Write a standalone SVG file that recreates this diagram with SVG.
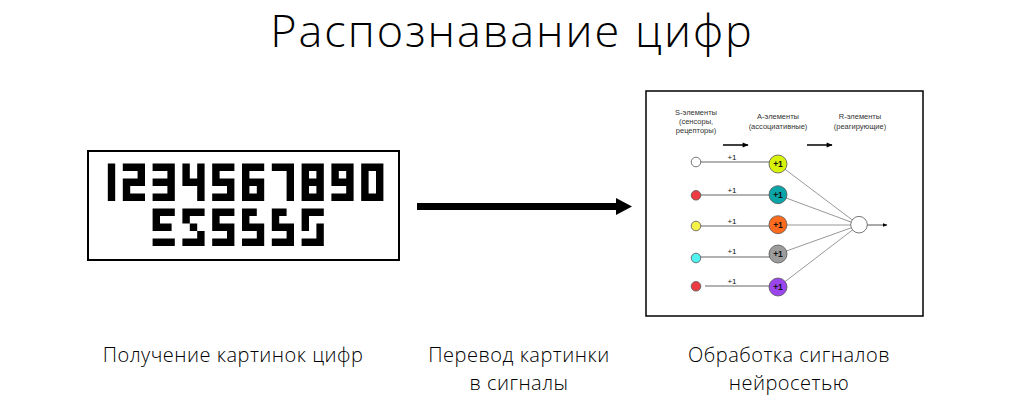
<svg xmlns="http://www.w3.org/2000/svg" xmlns:xlink="http://www.w3.org/1999/xlink" width="1024" height="418" viewBox="0 0 1024 418">
<style>
.title{font-family:"Open Sans","Liberation Sans",sans-serif;font-weight:300;font-size:45px;letter-spacing:2px;fill:#000}
.cap{font-family:"Open Sans","Liberation Sans",sans-serif;font-weight:300;font-size:20px;letter-spacing:0.5px;fill:#000}
.sm{font-family:"Liberation Sans",Arial,sans-serif;font-size:7.5px;fill:#333}
.pl{font-family:"Liberation Sans",Arial,sans-serif;font-size:8px;fill:#111}
.an{font-family:"Liberation Sans",Arial,sans-serif;font-size:8.5px;font-weight:bold;fill:#111}
.sa{stroke:#999;stroke-width:1.5;fill:none}
.ar{stroke:#999;stroke-width:1;fill:none}
.nd{stroke:#555;stroke-width:0.8}
</style>
<defs>
<path id="d1" d="M14.8 0h7.4v37.5h-7.4z"/>
<path id="d2" d="M0 0h22.2v7.5H0zM14.8 7.5h7.4v7.5h-7.4zM0 15h22.2v7.5H0zM0 22.5h7.4v7.5H0zM0 30h22.2v7.5H0z"/>
<path id="d3" d="M0 0h22.2v7.5H0zM14.8 7.5h7.4v7.5h-7.4zM0 15h22.2v7.5H0zM14.8 22.5h7.4v7.5h-7.4zM0 30h22.2v7.5H0z"/>
<path id="d4" d="M0 0h7.4v22.5H0zM14.8 0h7.4v37.5h-7.4zM0 15h22.2v7.5H0z"/>
<path id="d5" d="M0 0h22.2v7.5H0zM0 7.5h7.4v7.5H0zM0 15h22.2v7.5H0zM14.8 22.5h7.4v7.5h-7.4zM0 30h22.2v7.5H0z"/>
<path id="d6" d="M0 0h22.2v7.5H0zM0 7.5h7.4v7.5H0zM0 15h22.2v7.5H0zM0 22.5h7.4v7.5H0zM14.8 22.5h7.4v7.5h-7.4zM0 30h22.2v7.5H0z"/>
<path id="d7" d="M0 0h22.2v7.5H0zM14.8 7.5h7.4v30h-7.4z"/>
<path id="d8" d="M0 0h22.2v7.5H0zM0 7.5h7.4v7.5H0zM14.8 7.5h7.4v7.5h-7.4zM0 15h22.2v7.5H0zM0 22.5h7.4v7.5H0zM14.8 22.5h7.4v7.5h-7.4zM0 30h22.2v7.5H0z"/>
<path id="d9" d="M0 0h22.2v7.5H0zM0 7.5h7.4v7.5H0zM14.8 7.5h7.4v7.5h-7.4zM0 15h22.2v7.5H0zM14.8 22.5h7.4v7.5h-7.4zM0 30h22.2v7.5H0z"/>
<path id="d0" d="M0 0h22.2v7.5H0zM0 7.5h7.4v22.5H0zM14.8 7.5h7.4v22.5h-7.4zM0 30h22.2v7.5H0z"/>
<path id="v1" d="M0 0h22.2v7.5H0zM0 7.5h7.4v7.5H0zM0 15h19v7.5H0zM0 30h22.2v7.5H0z"/>
<path id="v2" d="M0 0h22.2v7.5H0zM0 7.5h7.4v7.5H0zM7.4 15h7.4v7.5h-7.4zM14.8 22.5h7.4v7.5h-7.4zM0 30h22.2v7.5H0z"/>
<path id="v4" d="M0 0h14.8v7.5H0zM0 7.5h7.4v7.5H0zM0 15h22.2v7.5H0zM14.8 22.5h7.4v7.5h-7.4zM0 30h22.2v7.5H0z"/>
<path id="v6" d="M0 0h22.2v7.5H0zM0 7.5h7.4v15H0zM14.8 15h7.4v15h-7.4zM0 30h22.2v7.5H0z"/>
<marker id="ah" viewBox="0 0 10 10" refX="9" refY="5" markerWidth="5" markerHeight="5" orient="auto" markerUnits="userSpaceOnUse"><path d="M0 1L10 5L0 9z" fill="#000"/></marker>
<marker id="ah2" viewBox="0 0 10 10" refX="9" refY="5" markerWidth="9" markerHeight="6" orient="auto" markerUnits="userSpaceOnUse"><path d="M0 1L10 5L0 9z" fill="#000"/></marker>
</defs>
<rect width="1024" height="418" fill="#fff"/>

<g id="title"><text class="title" x="512" y="47" text-anchor="middle">Распознавание цифр</text></g>

<g id="digits-image">
<rect x="88" y="151" width="311" height="109" fill="#fff" stroke="#000" stroke-width="2"/>
<g fill="#000">
<use xlink:href="#d1" x="93" y="163.5"/>
<use xlink:href="#d2" x="122.8" y="163.5"/>
<use xlink:href="#d3" x="152.6" y="163.5"/>
<use xlink:href="#d4" x="182.4" y="163.5"/>
<use xlink:href="#d5" x="212.2" y="163.5"/>
<use xlink:href="#d6" x="242" y="163.5"/>
<use xlink:href="#d7" x="271.8" y="163.5"/>
<use xlink:href="#d8" x="301.6" y="163.5"/>
<use xlink:href="#d9" x="331.4" y="163.5"/>
<use xlink:href="#d0" x="361.2" y="163.5"/>
<use xlink:href="#v1" x="152.6" y="208.5"/>
<use xlink:href="#v2" x="182.4" y="208.5"/>
<use xlink:href="#d5" x="212.2" y="208.5"/>
<use xlink:href="#v4" x="242" y="208.5"/>
<use xlink:href="#v4" x="271.8" y="208.5"/>
<use xlink:href="#v6" x="301.6" y="208.5"/>
</g>
</g>

<g id="connectors">
<rect x="417" y="203" width="201" height="7" fill="#000"/>
<path d="M616 198L632 206.5L616 215z" fill="#000"/>
</g>

<g id="network-panel">
<rect x="646" y="91" width="277" height="225" fill="#fff" stroke="#000" stroke-width="1.5"/>
<g class="sm" text-anchor="middle">
<text x="696" y="115">S-элементы</text>
<text x="696" y="124">(сенсоры,</text>
<text x="696" y="133">рецепторы)</text>
<text x="778" y="119">A-элементы</text>
<text x="778" y="129">(ассоциативные)</text>
<text x="860" y="119">R-элементы</text>
<text x="860" y="129">(реагирующие)</text>
</g>
<line x1="723" y1="145" x2="748" y2="145" stroke="#000" stroke-width="1.5" marker-end="url(#ah2)"/>
<line x1="807" y1="145" x2="832" y2="145" stroke="#000" stroke-width="1.5" marker-end="url(#ah2)"/>
<g class="sa">
<line x1="700" y1="162" x2="770" y2="162"/>
<line x1="700" y1="195" x2="770" y2="195"/>
<line x1="700" y1="226" x2="770" y2="226"/>
<line x1="700" y1="257" x2="770" y2="257"/>
<line x1="705" y1="286" x2="770" y2="286"/>
</g>
<g class="ar">
<line x1="778" y1="164" x2="859" y2="225"/>
<line x1="778" y1="195" x2="859" y2="225"/>
<line x1="778" y1="225" x2="859" y2="225"/>
<line x1="778" y1="254" x2="859" y2="225"/>
<line x1="778" y1="287" x2="859" y2="225"/>
</g>
<line x1="867" y1="225" x2="887" y2="225" stroke="#555" stroke-width="1" marker-end="url(#ah)"/>
<g class="pl" text-anchor="middle">
<text x="732" y="160">+1</text>
<text x="732" y="193">+1</text>
<text x="732" y="224">+1</text>
<text x="732" y="254">+1</text>
<text x="732" y="284">+1</text>
</g>
<g class="nd">
<circle cx="696" cy="162" r="4.8" fill="#fff"/>
<circle cx="696" cy="195.3" r="4.8" fill="#ec3b45"/>
<circle cx="696" cy="226" r="4.8" fill="#f7f24a"/>
<circle cx="696" cy="258" r="4.8" fill="#52f2ee"/>
<circle cx="696" cy="286.3" r="4.8" fill="#ec3b45"/>
<circle cx="778" cy="164" r="9" fill="#d8f20a"/>
<circle cx="778" cy="194.7" r="9" fill="#0aa5a8"/>
<circle cx="778" cy="224.7" r="9" fill="#ff6b1e"/>
<circle cx="778" cy="254" r="9" fill="#9c9c9c"/>
<circle cx="778" cy="287" r="9" fill="#9b45ef"/>
<circle cx="859" cy="224.7" r="8.3" fill="#fff"/>
</g>
<g class="an" text-anchor="middle">
<text x="778" y="167">+1</text>
<text x="778" y="197.7">+1</text>
<text x="778" y="227.7">+1</text>
<text x="778" y="257">+1</text>
<text x="778" y="290">+1</text>
</g>
</g>

<g id="caption1"><text class="cap" x="233" y="362" text-anchor="middle">Получение картинок цифр</text></g>
<g id="caption2"><text class="cap" x="519" y="362" text-anchor="middle">Перевод картинки</text><text class="cap" x="519" y="390" text-anchor="middle">в сигналы</text></g>
<g id="caption3"><text class="cap" x="789" y="362" text-anchor="middle">Обработка сигналов</text><text class="cap" x="789" y="390" text-anchor="middle">нейросетью</text></g>
</svg>
